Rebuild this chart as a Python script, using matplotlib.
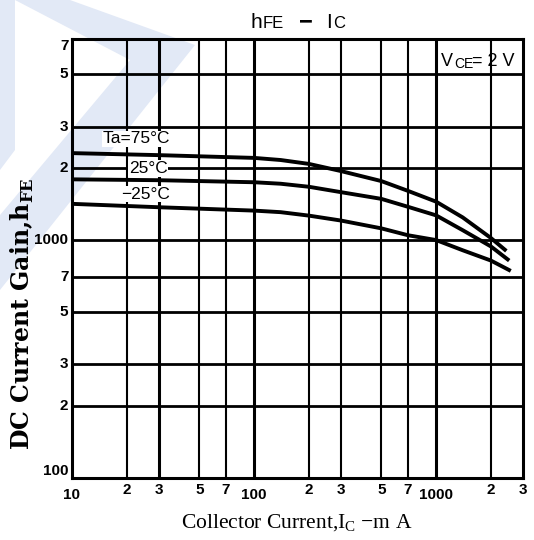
import matplotlib
matplotlib.use("Agg")
import matplotlib.pyplot as plt
from matplotlib.patches import Polygon

# hFE - IC curves
ic_75 = [10, 30, 100, 140, 200, 300, 500, 700, 1000, 1400, 2000, 2430]
hfe_75 = [2320, 2275, 2215, 2170, 2090, 1950, 1770, 1610, 1450, 1245, 1020, 900]
ic_25 = [10, 30, 100, 140, 200, 300, 500, 700, 1000, 1400, 2000, 2520]
hfe_25 = [1800, 1785, 1750, 1725, 1675, 1590, 1490, 1380, 1270, 1100, 940, 820]
ic_m25 = [10, 30, 100, 140, 200, 300, 500, 700, 1000, 1400, 2000, 2570]
hfe_m25 = [1420, 1374, 1330, 1310, 1267, 1208, 1120, 1048, 1000, 906, 820, 742]

x_ticks = [10, 20, 30, 50, 70, 100, 200, 300, 500, 700, 1000, 2000, 3000]
x_labels = ["10", "2", "3", "5", "7", "100", "2", "3", "5", "7", "1000", "2", "3"]
y_ticks = [100, 200, 300, 500, 700, 1000, 2000, 3000, 5000, 7000]
y_labels = ["100", "2", "3", "5", "7", "1000", "2", "3", "5", "7"]

sans = ["Liberation Sans", "DejaVu Sans"]
plt.rcParams["mathtext.fontset"] = "custom"
plt.rcParams["mathtext.rm"] = "Liberation Serif"
plt.rcParams["mathtext.bf"] = "DejaVu Serif:bold"

W, H = 534, 540
fig = plt.figure(figsize=(W / 100, H / 100), dpi=100)


def px(x, y):
    return x / W, 1 - y / H


# pale blue watermark chevron behind everything
wm_color = "#e2e9f6"
fig.patches.append(Polygon([px(15, 0), px(70, 0), px(195, 45), px(0, 290), px(0, 215), px(130, 60)],
                           closed=True, transform=fig.transFigure, facecolor=wm_color,
                           edgecolor="none", zorder=-5))
fig.patches.append(Polygon([px(0, 0), px(15, 0), px(15, 150), px(0, 170)], closed=True,
                           transform=fig.transFigure, facecolor=wm_color, edgecolor="none",
                           zorder=-5))

ax = fig.add_axes([72 / W, (H - 478) / H, (523 - 72) / W, (478 - 39) / H])
ax.patch.set_facecolor("none")
ax.set_xscale("log")
ax.set_yscale("log")
ax.set_xlim(10, 3000)
ax.set_ylim(100, 7000)
ax.set_xticks([])
ax.set_yticks([])
ax.minorticks_off()
ax.tick_params(which="both", length=0, labelbottom=False, labelleft=False)
for s in ax.spines.values():
    s.set_linewidth(2.2)

for v in x_ticks[1:-1]:
    lw = 2.2 if v in (30, 100, 1000) else 1.5
    ax.axvline(v, color="black", lw=lw, zorder=1)
for v in y_ticks[1:-1]:
    ax.axhline(v, color="black", lw=2.0, zorder=1)

for ic, hfe in [(ic_75, hfe_75), (ic_25, hfe_25), (ic_m25, hfe_m25)]:
    ax.plot(ic, hfe, color="black", lw=2.8, solid_capstyle="butt",
            solid_joinstyle="round", zorder=3)

# tick labels
ytr = ax.get_yaxis_transform()
for v, t in zip(y_ticks, y_labels):
    va = "center"
    if v == 100:
        va = "bottom"
    elif v == 7000:
        va = "top"
    ax.text(-0.008, v, t, transform=ytr, ha="right", va=va, fontsize=11,
            fontweight="bold", family=sans)
xtr = ax.get_xaxis_transform()
for v, t in zip(x_ticks, x_labels):
    y = -0.022 if len(t) > 1 else -0.011
    ax.text(v, y, t, transform=xtr, ha="center", va="top", fontsize=11,
            fontweight="bold", family=sans)

# curve labels, white boxes hide the grid behind them
box = dict(facecolor="white", edgecolor="none", pad=0.6)
ax.text(22.7, 2660, "Ta=75\u00b0C", ha="center", va="center", fontsize=12.5,
        family=sans, zorder=4, bbox=box)
ax.text(26.2, 2000, "25\u00b0C", ha="center", va="center", fontsize=12.5,
        family=sans, zorder=4, bbox=box)
ax.text(25.2, 1561, "\u221225\u00b0C", ha="center", va="center", fontsize=12.5,
        family=sans, zorder=4, bbox=box)

# V_CE condition
ax.text(0.818, 0.948, "V", transform=ax.transAxes, ha="left", va="center",
        fontsize=13, family=sans)
ax.text(0.847, 0.944, "CE", transform=ax.transAxes, ha="left", va="center",
        fontsize=10, family=sans)
ax.text(0.888, 0.948, "= 2 V", transform=ax.transAxes, ha="left", va="center",
        fontsize=13, family=sans)

# title in small-caps style
fig.text(*px(250, 28), "h", fontsize=15, family=sans, va="baseline", ha="left")
fig.text(*px(263, 28), "FE", fontsize=12, family=sans, va="baseline", ha="left")
fig.text(*px(299, 28), "\u2212", fontsize=17, fontweight="bold", family=sans,
         va="baseline", ha="left")
fig.text(*px(326, 28), "I", fontsize=15, family=sans, va="baseline", ha="left")
fig.text(*px(333, 28), "C", fontsize=12, family=sans, va="baseline", ha="left")

fig.text(*px(22, 314), r"DC Current Gain,h$_{\mathbf{FE}}$", rotation=90,
         ha="center", va="center", fontsize=17, fontweight="bold", family="DejaVu Serif")
fig.text(*px(297, 523), r"Collector Current,I$_{\rm C}$ $-$m A", ha="center",
         va="center", fontsize=15.5, family="Liberation Serif")

fig.savefig("out.png", dpi=100)
